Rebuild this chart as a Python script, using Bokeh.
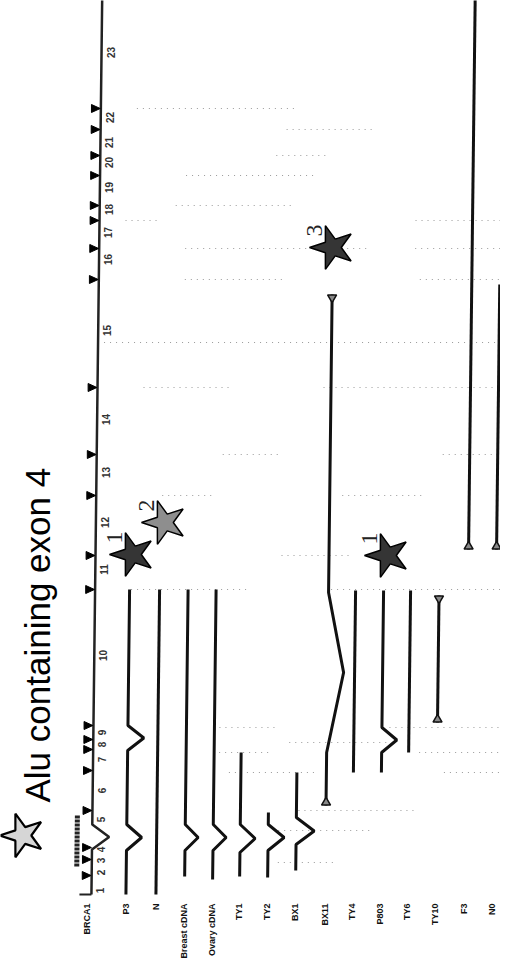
import numpy as np
from bokeh.plotting import figure
from bokeh.models import Range1d
from bokeh.embed import file_html
from bokeh.resources import INLINE
from bokeh.core.properties import value

# ---------------- data (image-row coordinates along the gene axis) ----------------
EXON_NUMBERS = ["1", "2", "3", "4", "5", "6", "7", "8", "9", "10", "11", "12",
                "13", "14", "15", "16", "17", "18", "19", "20", "21", "22", "23"]
EXON_NUMBER_POS = [898, 880, 868, 857, 827, 798, 767, 752, 740, 663, 577, 530,
                   480, 427, 338, 267, 240, 217, 195, 170, 150, 125, 60]
EXON_MARK_POS = [116, 137, 163, 183, 213, 228, 256, 287, 395, 462, 503, 563, 597,
                 733, 747, 757, 778, 818, 855, 867, 883]

GENE_NAME = "BRCA1"
GENE_START = 4
GENE_END = 902
GENE_BUMP = [(832, 857, 17)]

ROW_NAMES = ["P3", "N", "Breast cDNA", "Ovary cDNA", "TY1", "TY2", "BX1", "BX11",
             "TY4", "P803", "TY6", "TY10", "F3", "N0"]
ROW_START = [597, 597, 597, 597, 760, 820, 780, 302, 598, 598, 598, 603, 6, 292]
ROW_END = [902, 902, 884, 887, 884, 885, 878, 813, 780, 780, 760, 730, 557, 557]
ROW_SKIPS = [[(733, 758, 16), (832, 858, 15)], [], [(832, 858, 13)], [(832, 858, 13)],
             [(832, 860, 15)], [(832, 858, 16)], [(825, 852, 18)], [(600, 760, 16)],
             [], [(735, 760, 15)], [], [], [], []]
ROW_CAP_TOP = [False, False, False, False, False, False, False, True,
               False, False, False, True, False, False]
ROW_CAP_BOTTOM = [False, False, False, False, False, False, False, True,
                  False, False, False, True, True, True]

# faint dotted exon-boundary guides: (row, from, to)
GUIDE_ROW = [116, 137, 163, 183, 213, 228, 228, 256, 256, 287, 287, 350, 395, 395,
             462, 462, 503, 503, 563, 597, 597, 735, 735, 750, 760, 760, 780, 780,
             818, 838, 870]
GUIDE_FROM = [140, 290, 280, 190, 180, 130, 420, 190, 420, 190, 425, 110, 150, 330,
              230, 450, 170, 350, 290, 140, 340, 230, 400, 300, 230, 430, 240, 455,
              310, 290, 290]
GUIDE_TO = [300, 380, 330, 320, 300, 165, 510, 375, 515, 290, 515, 515, 240, 515,
            290, 515, 220, 430, 360, 260, 515, 290, 515, 400, 280, 515, 330, 515,
            430, 385, 350]

STAR_NUMBER = ["1", "2", "1", "3"]
STAR_KIND = ["dark", "light", "dark", "dark"]
STAR_AT_X = [140, 172, 395, 340]
STAR_AT_Y = [562, 530, 563, 255]

LEGEND_TEXT = "Alu containing exon 4"

# ---------------- layout / style ----------------
H = 980
TILT = -0.012      # the scanned figure is slightly rotated
Y_REF = 480
AXIS_COL = 104
GENE_LABEL_COL = 100
ROW_COL = [138.5, 168.5, 197, 225, 252, 280, 308, 337.5, 364.5, 392.5, 419.5, 448, 477, 505]
LABEL_TOP = 911
STAR_COLORS = {"dark": "#353535", "light": "#8e8e8e"}
STAR_R = 23


def Y(r):
    return H - np.asarray(r, dtype=float)


def X(c, r):
    return np.asarray(c, dtype=float) + TILT * (np.asarray(r, dtype=float) - Y_REF)


def track(col, r0, r1, skips):
    rs = [r0]
    dx = [0.0]
    for a, b, amp in skips:
        rs += [a, (a + b) / 2.0, b]
        dx += [0.0, amp, 0.0]
    rs.append(r1)
    dx.append(0.0)
    return list(X(np.array(dx) + col, rs)), list(Y(rs))


def star_shape(cx, cy, R, point_deg=180.0):
    """five-pointed star around (cx, cy) in data units (1 unit = 1 px), tip toward point_deg"""
    ang = np.deg2rad(point_deg + np.arange(10) * 36.0)
    rad = np.where(np.arange(10) % 2 == 0, R, R * 0.382)
    return list(cx + rad * np.cos(ang)), list(cy + rad * np.sin(ang))


def right_triangle(cx, cy, s):
    return [cx - s * 0.55, cx + s * 0.55, cx - s * 0.55], [cy + s * 0.5, cy, cy - s * 0.5]


p = figure(width=500, height=964, output_backend="svg", toolbar_location=None,
           x_range=Range1d(8, 508), y_range=Range1d(8, 972), min_border=0)
p.axis.visible = False
p.grid.visible = False
p.outline_line_color = None
p.background_fill_color = "white"
p.border_fill_color = "white"

# guides
gx0 = X(GUIDE_FROM, GUIDE_ROW)
gx1 = X(GUIDE_TO, GUIDE_ROW)
p.segment(gx0, Y(GUIDE_ROW), gx1, Y(GUIDE_ROW), line_color="#9a9a9a",
          line_width=1.2, line_dash="1 5")

# gene axis
ax, ay = track(AXIS_COL, GENE_START, GENE_END, GENE_BUMP)
p.line(ax, ay, line_color="#222222", line_width=2.5)
p.scatter(X([AXIS_COL], [GENE_START]), Y([GENE_START]), marker="x", size=8,
          line_color="#444444", line_width=1.5)
p.segment(X([AXIS_COL - 12], [GENE_END]), Y([GENE_END]), X([AXIS_COL], [GENE_END]),
          Y([GENE_END]), line_color="#222222", line_width=2)
# dark bracket bar near exons 1-4
bar_r = [823, 875]
p.line(X([AXIS_COL - 15] * 2, bar_r), Y(bar_r), line_color="#222222", line_width=5,
       line_dash="3 1")
# exon markers (pointing toward the axis)
mx = X([AXIS_COL - 5] * len(EXON_MARK_POS), EXON_MARK_POS)
my = Y(EXON_MARK_POS)
tri = [right_triangle(a, b, 8) for a, b in zip(mx, my)]
p.patches([t[0] for t in tri], [t[1] for t in tri], fill_color="black",
          line_color="black", line_width=1)
p.text(X([AXIS_COL + 9] * len(EXON_NUMBER_POS), EXON_NUMBER_POS), Y(EXON_NUMBER_POS),
       text=EXON_NUMBERS, angle=np.pi / 2, text_align="center", text_baseline="middle",
       text_font=value("Liberation Sans"), text_font_style="bold",
       text_font_size="10px", text_color="#333333")

# transcripts
xs, ys = [], []
for c, r0, r1, sk in zip(ROW_COL, ROW_START, ROW_END, ROW_SKIPS):
    tx, ty = track(c, r0, r1, sk)
    xs.append(tx)
    ys.append(ty)
p.multi_line(xs, ys, line_color="#111111", line_width=3)

cap_top_c = [c for c, f in zip(ROW_COL, ROW_CAP_TOP) if f]
cap_top_r = [r + 3 for r, f in zip(ROW_START, ROW_CAP_TOP) if f]
p.scatter(X(cap_top_c, cap_top_r), Y(cap_top_r), marker="inverted_triangle",
          size=9, fill_color="#888888", line_color="#111111", line_width=1.5)
cap_bot_c = [c for c, f in zip(ROW_COL, ROW_CAP_BOTTOM) if f]
cap_bot_r = [r - 3 for r, f in zip(ROW_END, ROW_CAP_BOTTOM) if f]
p.scatter(X(cap_bot_c, cap_bot_r), Y(cap_bot_r), marker="triangle", size=9,
          fill_color="#888888", line_color="#111111", line_width=1.5)

# row labels
lab_cols = [GENE_LABEL_COL] + ROW_COL
lab_text = [GENE_NAME] + ROW_NAMES
p.text(X(lab_cols, [LABEL_TOP + 10] * len(lab_cols)), Y([LABEL_TOP] * len(lab_cols)),
       text=lab_text, angle=np.pi / 2, text_align="right", text_baseline="middle",
       text_font=value("Liberation Sans"), text_font_style="bold",
       text_font_size="9px", text_color="#111111")

# stars (pointing left, like the rotated original)
stars = [star_shape(a, b, STAR_R) for a, b in zip(STAR_AT_X, Y(STAR_AT_Y))]
p.patches([s[0] for s in stars], [s[1] for s in stars],
          fill_color=[STAR_COLORS[k] for k in STAR_KIND], line_color="black",
          line_width=1.5)
p.text(np.array(STAR_AT_X) - 18, Y(np.array(STAR_AT_Y) - 17), text=STAR_NUMBER,
       angle=np.pi / 2, text_align="center", text_baseline="middle",
       text_font=value("Liberation Serif"), text_font_size="24px", text_color="#222222")

# legend
lsx, lsy = star_shape(30, Y(843), STAR_R)
p.patch(lsx, lsy, fill_color="#d6d6d6", line_color="black", line_width=2.2)
p.text([45], Y([810]), text=[LEGEND_TEXT], angle=np.pi / 2, text_align="left",
       text_baseline="alphabetic", text_font=value("Liberation Sans"),
       text_font_size="35px", text_color="black")

open("out.html", "w").write(file_html(p, INLINE))
